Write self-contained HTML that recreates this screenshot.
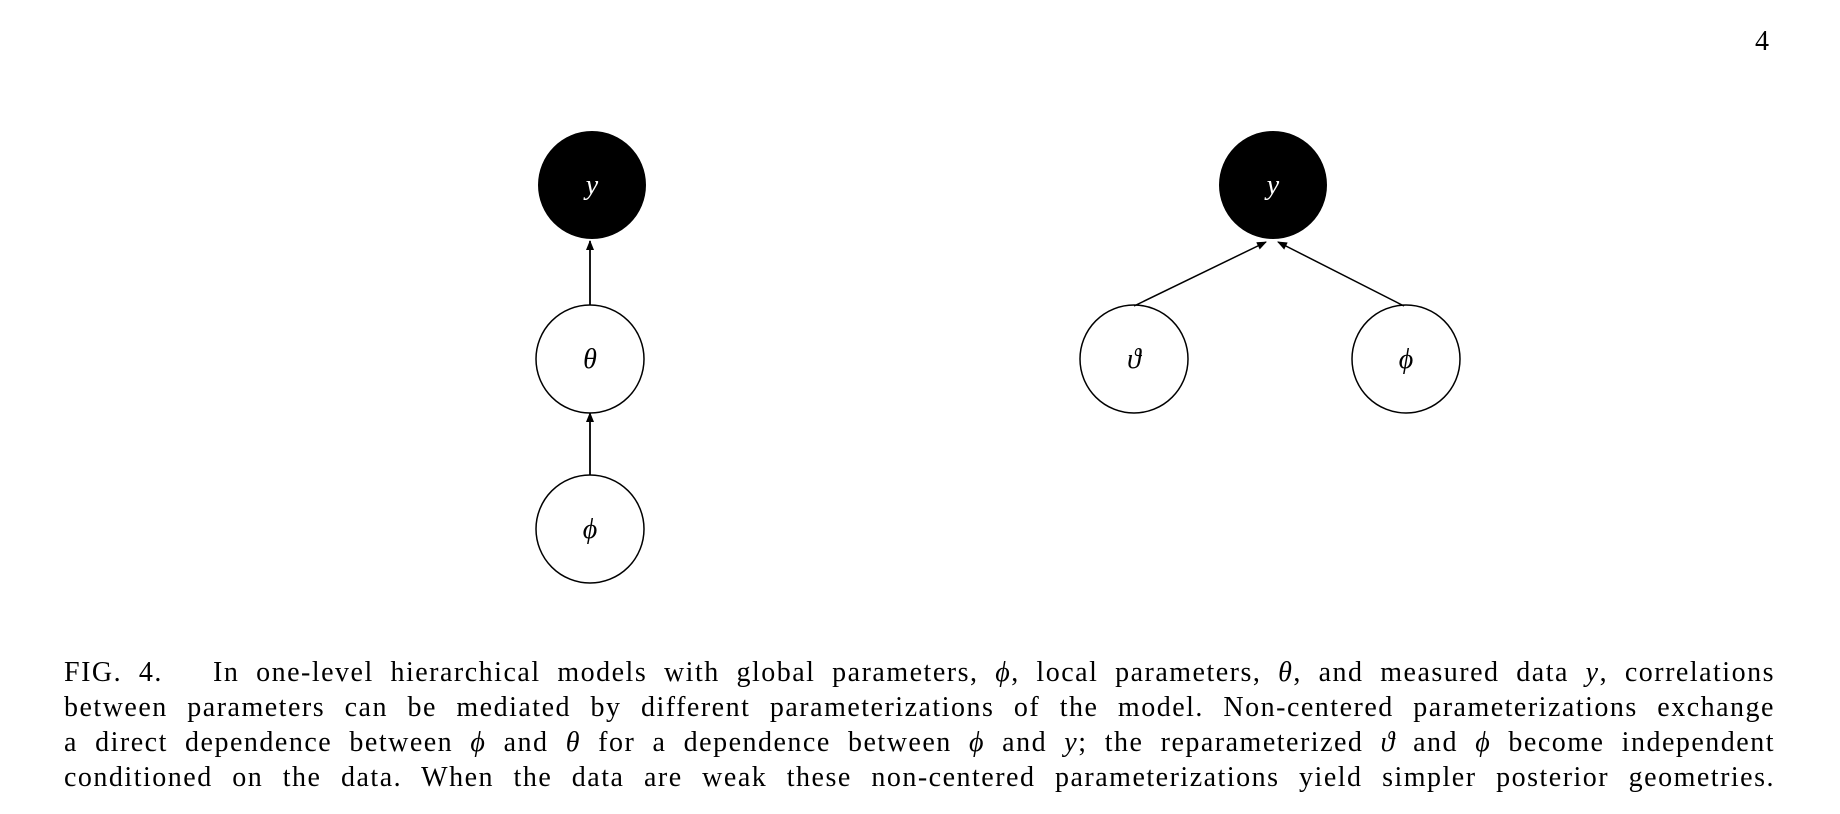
<!DOCTYPE html>
<html><head><meta charset="utf-8"><style>
body{margin:0;width:1840px;height:814px;background:#fff;position:relative;overflow:hidden;font-family:"Liberation Serif",serif;}
.pg{position:absolute;left:1755px;top:26px;font-size:28px;}
.cap{position:absolute;left:64px;width:1711px;top:655px;font-size:28px;letter-spacing:1.5px;line-height:35px;color:#000;}
.cap div{text-align:justify;text-align-last:justify;white-space:nowrap;}
svg{position:absolute;left:0;top:0;}
</style></head><body>
<div class="pg">4</div>
<svg width="1840" height="640">
<defs><marker id="ah" markerWidth="10" markerHeight="10" refX="9" refY="4" orient="auto" markerUnits="userSpaceOnUse"><path d="M0,0 L10,4 L0,8 z" fill="#000"/></marker></defs>
<g>
<circle cx="592" cy="185" r="54" fill="#000"/>
<text x="592" y="194" fill="#fff" font-size="28" font-style="italic" text-anchor="middle" font-family="Liberation Serif">y</text>
<circle cx="590" cy="359" r="54" fill="#fff" stroke="#000" stroke-width="1.5"/>
<text x="590" y="368" font-size="28" font-style="italic" text-anchor="middle" font-family="Liberation Serif">θ</text>
<circle cx="590" cy="529" r="54" fill="#fff" stroke="#000" stroke-width="1.5"/>
<text x="590" y="538" font-size="28" font-style="italic" text-anchor="middle" font-family="Liberation Serif">ϕ</text>
<line x1="590" y1="305" x2="590" y2="241" stroke="#000" stroke-width="1.8" marker-end="url(#ah)"/>
<line x1="590" y1="475" x2="590" y2="413" stroke="#000" stroke-width="1.8" marker-end="url(#ah)"/>
</g>
<g>
<circle cx="1273" cy="185" r="54" fill="#000"/>
<text x="1273" y="194" fill="#fff" font-size="28" font-style="italic" text-anchor="middle" font-family="Liberation Serif">y</text>
<circle cx="1134" cy="359" r="54" fill="#fff" stroke="#000" stroke-width="1.5"/>
<text x="1134" y="368" font-size="28" font-style="italic" text-anchor="middle" font-family="Liberation Serif">ϑ</text>
<circle cx="1406" cy="359" r="54" fill="#fff" stroke="#000" stroke-width="1.5"/>
<text x="1406" y="368" font-size="28" font-style="italic" text-anchor="middle" font-family="Liberation Serif">ϕ</text>
<line x1="1134" y1="306" x2="1266" y2="242" stroke="#000" stroke-width="1.5" marker-end="url(#ah)"/>
<line x1="1404" y1="306" x2="1278" y2="242" stroke="#000" stroke-width="1.5" marker-end="url(#ah)"/>
</g>
</svg>
<div class="cap">
<div>FIG. 4.&nbsp;&nbsp; In one-level hierarchical models with global parameters, <i>ϕ</i>, local parameters, <i>θ</i>, and measured data <i>y</i>, correlations</div>
<div>between parameters can be mediated by different parameterizations of the model. Non-centered parameterizations exchange</div>
<div>a direct dependence between <i>ϕ</i> and <i>θ</i> for a dependence between <i>ϕ</i> and <i>y</i>; the reparameterized <i>ϑ</i> and <i>ϕ</i> become independent</div>
<div>conditioned on the data. When the data are weak these non-centered parameterizations yield simpler posterior geometries.</div>
</div>
</body></html>
